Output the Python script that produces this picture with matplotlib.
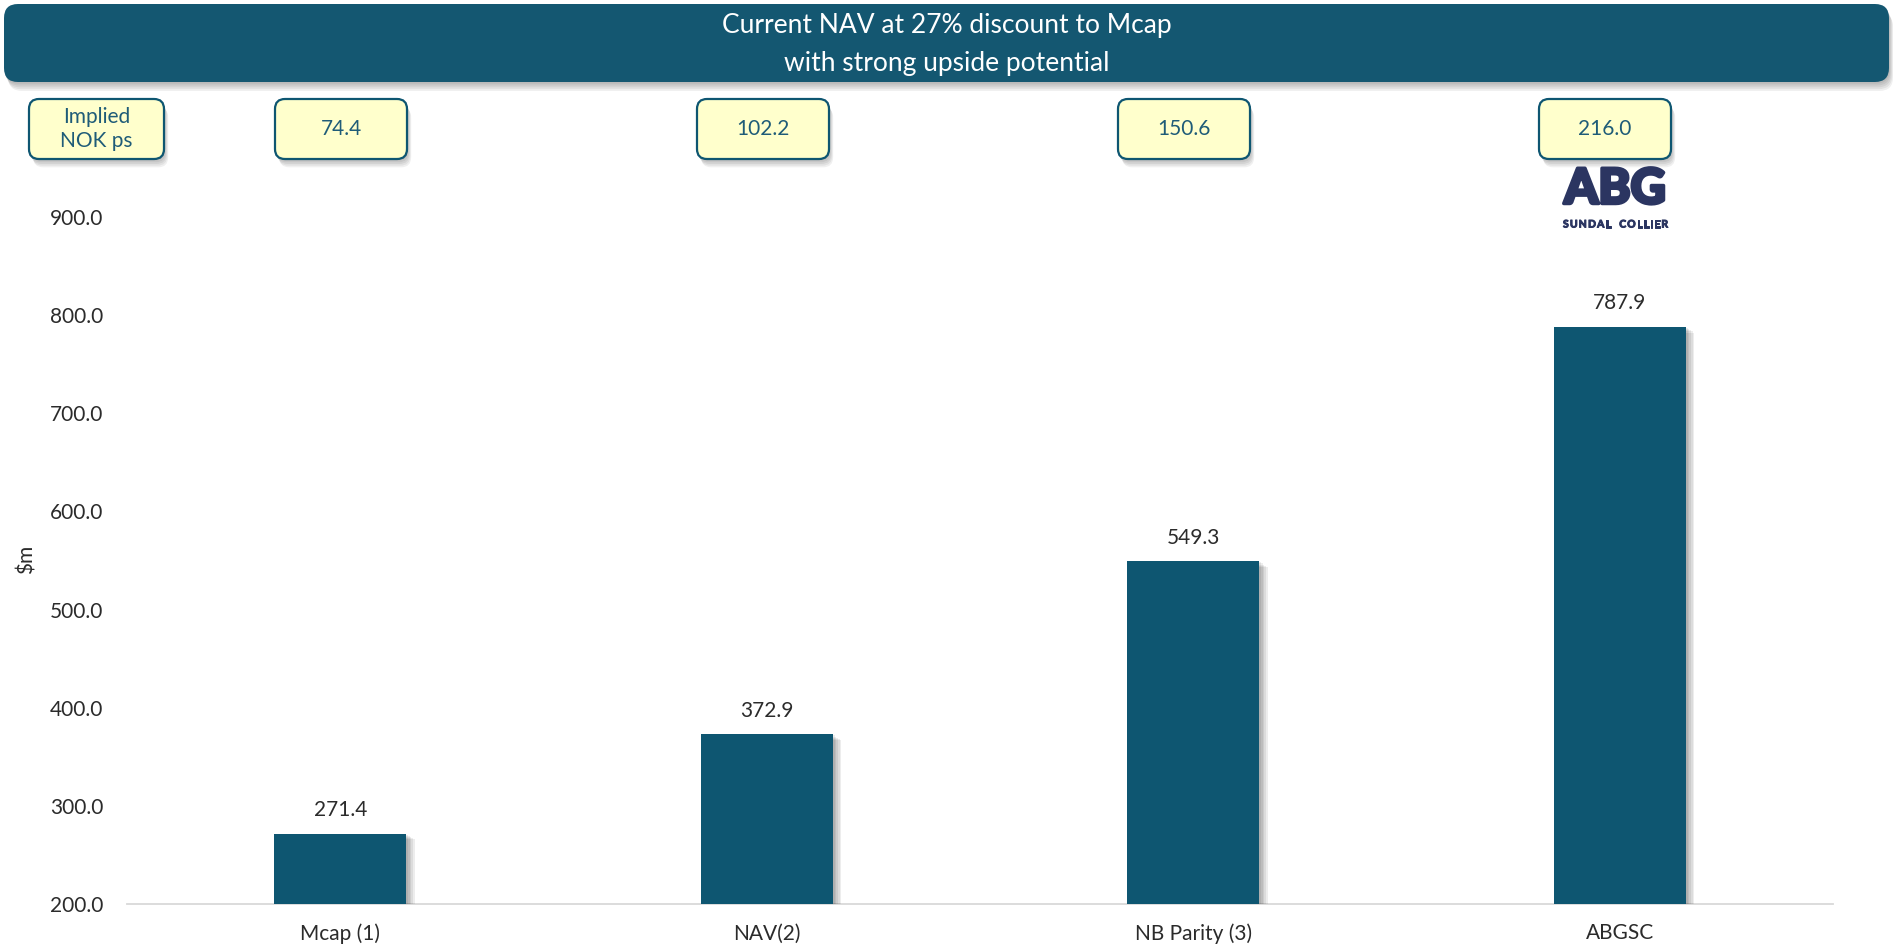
import matplotlib.pyplot as plt
import matplotlib.patheffects as pe
from matplotlib.patches import FancyBboxPatch
from matplotlib.ticker import FuncFormatter

plt.rcParams['font.family'] = ['Lato', 'DejaVu Sans']

# Chart data
categories = ['Mcap (1)', 'NAV(2)', 'NB Parity (3)', 'ABGSC']
values = [271.4, 372.9, 549.3, 787.9]
implied_nok = [74.4, 102.2, 150.6, 216.0]
title_lines = ['Current NAV at 27% discount to Mcap', 'with strong upside potential']

W, H = 1893, 950
teal = '#0e5671'
banner_col = '#145771'
box_fill = '#ffffcc'
box_text = '#1f5c78'
text_col = '#2b2b2b'
logo_col = '#2b3561'


def soft_shadow(dx=1.0, dy=-1.0, steps=5, alpha=0.07):
    # layered offsets give a blurred-looking drop shadow
    fx = [pe.SimplePatchShadow(offset=(dx * k, dy * k), shadow_rgbFace='black', alpha=alpha)
          for k in range(1, steps + 1)]
    return fx + [pe.Normal()]


fig = plt.figure(figsize=(W / 100, H / 100), dpi=100)
ax = fig.add_axes([127 / W, 46 / H, (1833 - 127) / W, (904 - 217) / H])

x = range(len(categories))
bars = ax.bar(x, values, width=0.31, color=teal, zorder=3)
for b in bars:
    b.set_path_effects(soft_shadow(1.2, -0.8, 5, 0.07))

for i, v in zip(x, values):
    ax.annotate(f'{v:.1f}', (i, v), xytext=(0, 17), textcoords='offset points',
                ha='center', va='center', fontsize=15, color=text_col)

ax.set_xlim(-0.5, len(categories) - 0.5)
ax.set_ylim(200, 900)
ax.set_yticks(range(200, 1000, 100))
ax.yaxis.set_major_formatter(FuncFormatter(lambda v, p: f'{v:.1f}'))
ax.set_xticks(list(x))
ax.set_xticklabels(categories)
ax.tick_params(axis='both', length=0, labelsize=15, colors=text_col)
ax.tick_params(axis='y', pad=17)
ax.tick_params(axis='x', pad=14)
for s in ['top', 'right', 'left']:
    ax.spines[s].set_visible(False)
ax.spines['bottom'].set_color('#d9d9d9')
ax.spines['bottom'].set_linewidth(1.3)
ax.set_ylabel('$m', fontsize=15, color=text_col, va='center')
ax.yaxis.set_label_coords(-(127 - 27) / (1833 - 127), (904 - 559) / (904 - 217))

# Pixel-space overlay for the banner, NOK boxes and logo
ov = fig.add_axes([0, 0, 1, 1], zorder=5)
ov.set_xlim(0, W)
ov.set_ylim(0, H)
ov.axis('off')
ov.patch.set_alpha(0)

banner = FancyBboxPatch((4, H - 82), 1885, 78, boxstyle='round,pad=0,rounding_size=14',
                        facecolor=banner_col, edgecolor='none')
banner.set_path_effects(soft_shadow(0.6, -1.3, 5, 0.06))
ov.add_patch(banner)
ov.text(W / 2, H - 26, title_lines[0], ha='center', va='center', fontsize=19,
        color='white', zorder=4)
ov.text(W / 2, H - 63, title_lines[1], ha='center', va='center', fontsize=19,
        color='white', zorder=4)

box_top, box_bot = H - 99, H - 159


def nok_box(xc, w, label):
    p = FancyBboxPatch((xc - w / 2, box_bot), w, box_top - box_bot,
                       boxstyle='round,pad=0,rounding_size=10',
                       facecolor=box_fill, edgecolor=teal, linewidth=1.6)
    p.set_path_effects(soft_shadow(0.6, -1.2, 5, 0.06))
    ov.add_patch(p)
    ov.text(xc, (box_top + box_bot) / 2, label, ha='center', va='center',
            fontsize=15, color=box_text, linespacing=1.25)


nok_box(96.5, 135, 'Implied\nNOK ps')
box_centres = [341, 763, 1184, 1605]
for xc, n in zip(box_centres, implied_nok):
    nok_box(xc, 132, f'{n:.1f}')

# ABG Sundal Collier logo
logo_x = 1615
logo_fx = [pe.SimpleLineShadow(offset=(2, -3), shadow_color='gray', alpha=0.25),
           pe.Stroke(linewidth=2.5, foreground=logo_col), pe.Normal()]
ov.text(logo_x, H - 189, 'ABG', ha='center', va='center', fontsize=35,
        fontweight='black', color=logo_col, path_effects=logo_fx)

# spread the tagline letters across the logo width
fig.canvas.draw()
renderer = fig.canvas.get_renderer()
tag = 'SUNDAL COLLIER'
tag_fx = [pe.Stroke(linewidth=0.7, foreground=logo_col), pe.Normal()]
chars = [ov.text(0, H - 225, c, ha='left', va='center', fontsize=7.5,
                 fontweight='bold', color=logo_col, path_effects=tag_fx) for c in tag]
widths = [t.get_window_extent(renderer).width if c != ' ' else 6 for t, c in zip(chars, tag)]
left, right = 1563, 1668
gap = (right - left - sum(widths)) / (len(tag) - 1)
pos = left
for t, w in zip(chars, widths):
    t.set_x(pos)
    pos += w + gap

fig.savefig('out.png', dpi=100)
